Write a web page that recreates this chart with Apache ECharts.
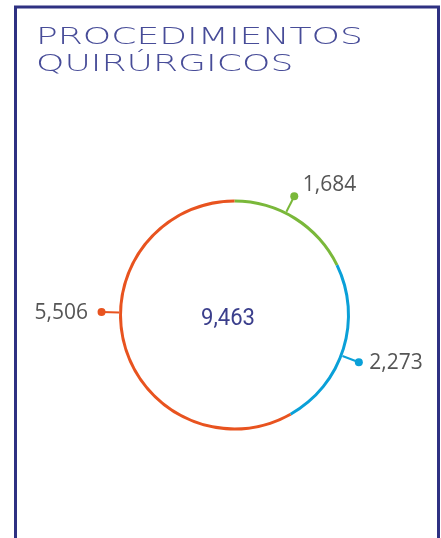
<!DOCTYPE html>
<html><head><meta charset="utf-8">
<script src="https://cdn.jsdelivr.net/npm/echarts@6/dist/echarts.min.js"></script>
<style>html,body{margin:0;padding:0;background:#fff}#c{width:441px;height:538px}</style>
</head><body><div id="c"></div>
<script>
// ---- data ----
const titleLines = ['PROCEDIMIENTOS', 'QUIRÚRGICOS'];
const categories = ['Segmento 1', 'Segmento 2', 'Segmento 3'];
const values = [1684, 2273, 5506];
const colors = ['#7ab83a', '#0aa0d8', '#e8531f'];

// ---- layout (not data) ----
const cx = 234.5, cy = 315, R = 114;
const leaderAngles = [26.7, 110.8, 271.3];
const leaderR = [115.5, 133];
const labelOffsets = [[8.5, -11], [10.5, 1], [-13.5, 1]];

function pt(a, r) { const t = a * Math.PI / 180; return [cx + r * Math.sin(t), cy - r * Math.cos(t)]; }
const fmt = v => Number(v).toLocaleString('en-US');
const total = values.reduce((a, b) => a + b, 0);

const ringData = values.map((v, i) => ({
  name: categories[i], value: v, itemStyle: { color: colors[i] },
  label: { rich: { dot: { width: 8, height: 8, borderRadius: 4, backgroundColor: colors[i] } } }
}));
const textData = values.map((v, i) => ({ name: categories[i], value: v }));

const chart = echarts.init(document.getElementById('c'), null, { renderer: 'canvas' });
chart.setOption({
  animation: false,
  graphic: [
    { type: 'rect', silent: true, shape: { x: 15.5, y: 7, width: 423, height: 640 },
      style: { fill: 'none', stroke: '#2e3182', lineWidth: 3 } },
    { type: 'text', silent: true, x: 36, y: 25, scaleX: 1.57,
      style: { text: titleLines.join('\n'), fontFamily: 'DejaVu Sans', fontWeight: 200, fontSize: 23,
        lineHeight: 26.5, fill: '#474c98', align: 'left', verticalAlign: 'top' } },
    { type: 'text', silent: true, x: 228, y: 318.5, scaleX: 0.92,
      style: { text: fmt(total), fontFamily: 'Roboto', fontSize: 24, fill: '#3b3f8c',
        align: 'center', verticalAlign: 'middle' } }
  ],
  series: [
    {
      type: 'pie', center: [cx, cy], radius: [R - 1.5, R + 1.5], startAngle: 90, clockwise: true,
      avoidLabelOverlap: false, silent: true, data: ringData,
      label: { show: true, position: 'outside', formatter: '{dot|}' },
      labelLine: { show: true, length: 10, length2: 0, lineStyle: { width: 2 } },
      labelLayout: p => {
        const i = p.dataIndex;
        const s = pt(leaderAngles[i], leaderR[0]), e = pt(leaderAngles[i], leaderR[1]);
        return { x: e[0], y: e[1], align: 'center', verticalAlign: 'middle', labelLinePoints: [s, e, e] };
      }
    },
    {
      type: 'pie', center: [cx, cy], radius: [R - 1.5, R + 1.5], startAngle: 90, clockwise: true,
      avoidLabelOverlap: false, silent: true, data: textData,
      itemStyle: { color: 'rgba(0,0,0,0)' },
      label: { show: true, position: 'outside', formatter: p => fmt(p.value),
        color: '#555555', fontFamily: 'Open Sans', fontSize: 21 },
      labelLine: { show: false },
      labelLayout: p => {
        const i = p.dataIndex;
        const e = pt(leaderAngles[i], leaderR[1]);
        const o = labelOffsets[i];
        return { x: e[0] + o[0], y: e[1] + o[1], align: o[0] < 0 ? 'right' : 'left', verticalAlign: 'middle' };
      }
    }
  ]
});
</script></body></html>
